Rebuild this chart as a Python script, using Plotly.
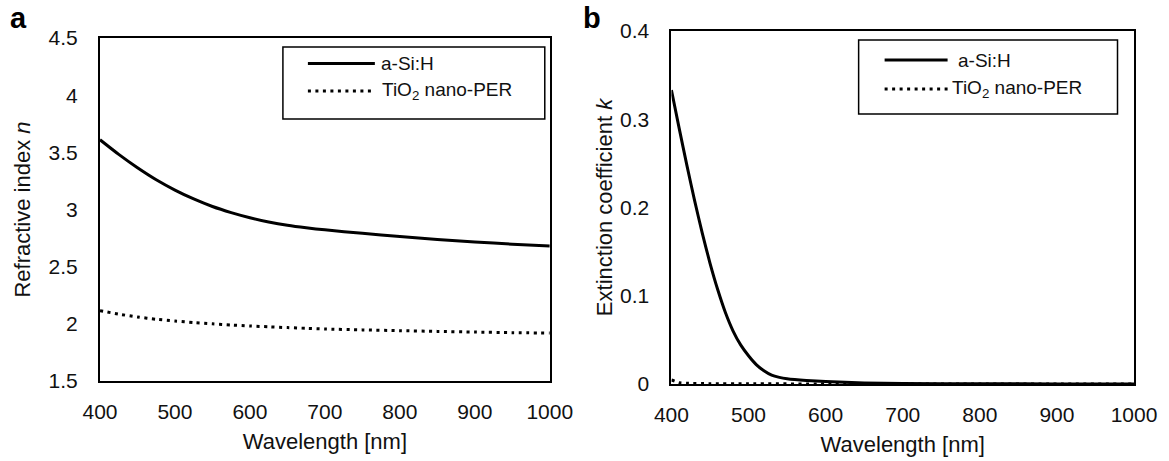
import plotly.graph_objects as go

W, H = 1169, 461

# ---------------- data ----------------
wl_n = [400, 425, 450, 475, 500, 525, 550, 575, 600, 625, 650, 675, 700, 750, 800, 850, 900, 950, 1000]
n_asi = [3.61, 3.482, 3.365, 3.26, 3.17, 3.092, 3.026, 2.973, 2.928, 2.891, 2.862, 2.840, 2.822,
         2.792, 2.764, 2.738, 2.716, 2.697, 2.681]
n_tio2 = [2.115, 2.085, 2.06, 2.04, 2.025, 2.011, 2.0, 1.99, 1.981, 1.974, 1.967, 1.961, 1.955,
          1.947, 1.94, 1.934, 1.928, 1.923, 1.919]

wl_k = [400, 410, 420, 430, 440, 450, 460, 470, 480, 490, 500, 510, 520, 530, 540, 550,
        575, 600, 650, 700, 800, 900, 1000]
k_asi = [0.333, 0.290, 0.248, 0.208, 0.171, 0.137, 0.107, 0.081, 0.060, 0.044, 0.032, 0.022,
         0.015, 0.010, 0.0075, 0.006, 0.004, 0.0027, 0.0012, 0.0005, 0.0002, 0.0001, 0.0]

wl_k_tio2 = [400, 410, 420, 450, 500, 600, 700, 800, 900, 1000]
k_tio2 = [0.0045, 0.0015, 0.0008, 0.0004, 0.0002, 0.0001, 0.0, 0.0, 0.0, 0.0]

x_ticks = [400, 500, 600, 700, 800, 900, 1000]
n_ticks = [1.5, 2, 2.5, 3, 3.5, 4, 4.5]
k_ticks = [0, 0.1, 0.2, 0.3, 0.4]

series_names = ["a-Si:H", "TiO<sub>2</sub> nano-PER"]
panel_labels = ["a", "b"]
x_title = "Wavelength [nm]"
y_titles = ["Refractive index <i>n</i>", "Extinction coefficient <i>k</i>"]

# ---------------- style ----------------
FONT = "Liberation Sans, Arial, sans-serif"
FS_TICK = 21
FS_TITLE = 22
FS_LEG = 19
SOLID = dict(color="black", width=3)
DOT = dict(color="black", width=3, dash="3px,4.5px")

# plot-area frame in figure pixels (union of both panels)
L, R, T, B = 100.0, 1134.5, 31.0, 384.0
PW, PH = R - L, B - T


def px(x):
    return (x - L) / PW


def py(y):
    return (B - y) / PH


fig = go.Figure()

fig.add_trace(go.Scatter(x=wl_n, y=n_asi, mode="lines", name=series_names[0],
                         line=dict(**SOLID, shape="spline", smoothing=0.6),
                         xaxis="x", yaxis="y", showlegend=False))
fig.add_trace(go.Scatter(x=wl_n, y=n_tio2, mode="lines", name=series_names[1],
                         line=dict(**DOT, shape="spline", smoothing=0.6),
                         xaxis="x", yaxis="y", showlegend=False))
fig.add_trace(go.Scatter(x=wl_k, y=k_asi, mode="lines", name=series_names[0],
                         line=dict(**SOLID, shape="spline", smoothing=0.5),
                         xaxis="x2", yaxis="y2", showlegend=False))
fig.add_trace(go.Scatter(x=wl_k_tio2, y=k_tio2, mode="lines", name=series_names[1],
                         line=dict(**DOT, shape="spline", smoothing=0.5),
                         xaxis="x2", yaxis="y2", showlegend=False))

axis_common = dict(showline=True, mirror=True, linecolor="black", linewidth=2,
                   showgrid=False, zeroline=False, ticks="", automargin=False,
                   tickfont=dict(family=FONT, size=FS_TICK, color="#111"))

fig.update_layout(
    width=W, height=H,
    margin=dict(l=L, r=W - R, t=T, b=H - B, pad=0),
    paper_bgcolor="white", plot_bgcolor="white",
    font=dict(family=FONT, size=FS_TICK, color="#111"),
    xaxis=dict(domain=[px(100), px(550)], range=[400, 1000], tickvals=x_ticks,
               anchor="y", ticklabelstandoff=11,
               title=dict(text=x_title, standoff=11, font=dict(family=FONT, size=FS_TITLE)),
               **axis_common),
    yaxis=dict(domain=[py(381), py(38)], range=[1.5, 4.5], tickvals=n_ticks,
               anchor="x", ticklabelstandoff=16,
               title=dict(text=y_titles[0], standoff=12, font=dict(family=FONT, size=FS_TITLE)),
               **axis_common),
    xaxis2=dict(domain=[px(671.7), px(1134.5)], range=[400, 1000], tickvals=x_ticks,
                anchor="y2", ticklabelstandoff=11,
                title=dict(text=x_title, standoff=11, font=dict(family=FONT, size=FS_TITLE)),
                **axis_common),
    yaxis2=dict(domain=[py(384), py(31)], range=[0, 0.4], tickvals=k_ticks,
                anchor="x2", ticklabelstandoff=16,
                title=dict(text=y_titles[1], standoff=1, font=dict(family=FONT, size=FS_TITLE)),
                **axis_common),
)

# ---------------- manual legends ----------------
shapes = []
annotations = []
legend_specs = [
    dict(box=(283, 47, 545, 119), lx=(308, 375), ys=(63.5, 91), tx=(379, 380)),
    dict(box=(859, 40, 1118, 114), lx=(885, 948), ys=(60, 89), tx=(956, 950)),
]
for spec in legend_specs:
    x0, y0, x1, y1 = spec["box"]
    shapes.append(dict(type="rect", xref="paper", yref="paper",
                       x0=px(x0), x1=px(x1), y0=py(y1), y1=py(y0),
                       line=dict(color="black", width=1.5), fillcolor="white", layer="above"))
    for i, (yy, tx) in enumerate(zip(spec["ys"], spec["tx"])):
        style = SOLID if i == 0 else DOT
        shapes.append(dict(type="line", xref="paper", yref="paper",
                           x0=px(spec["lx"][0]), x1=px(spec["lx"][1]),
                           y0=py(yy), y1=py(yy), line=style, layer="above"))
        annotations.append(dict(text=series_names[i], xref="paper", yref="paper",
                                x=px(tx), y=py(yy), xanchor="left", yanchor="middle",
                                showarrow=False,
                                font=dict(family=FONT, size=FS_LEG, color="#111")))

# panel labels
for lab, lx in zip(panel_labels, (8, 581)):
    annotations.append(dict(text="<b>%s</b>" % lab, xref="paper", yref="paper",
                            x=px(lx), y=py(18), xanchor="left", yanchor="middle",
                            showarrow=False,
                            font=dict(family=FONT, size=29, color="black")))

fig.update_layout(shapes=shapes, annotations=annotations)

fig.write_html("out.html",
               config={"displayModeBar": False},
               post_script="document.body.style.margin='0';document.body.style.padding='0';")
